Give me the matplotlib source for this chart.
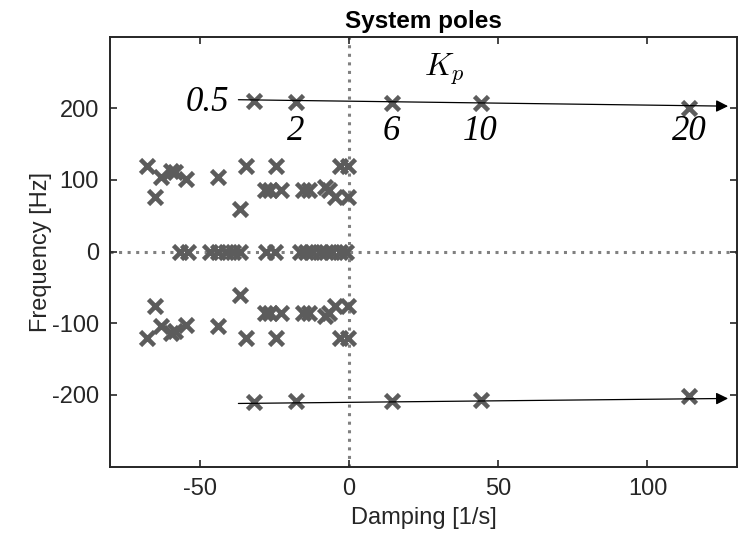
import numpy as np
import matplotlib
matplotlib.use("Agg")
import matplotlib.pyplot as plt

plt.rcParams["font.family"] = ["Liberation Sans", "DejaVu Sans"]
plt.rcParams["mathtext.fontset"] = "cm"
plt.rcParams["axes.unicode_minus"] = False

# ------------------------------------------------------------
# Pole data
# ------------------------------------------------------------
# complex poles (upper half plane), plotted with their conjugates
cplx_damping = [-67.5, -62.8, -65.0, -59.5, -58.4, -54.7, -43.9, -34.3, -36.6,
                -24.3, -28.2, -26.5, -22.6, -15.4, -13.2, -8.1, -6.5, -4.8,
                -3.1, -0.3, -0.3]
cplx_freq = [120, 104, 76, 113, 111, 102, 104, 120, 60,
             120, 86, 86, 86, 86, 86, 90, 86, 76,
             120, 120, 76]

# real poles
real_damping = [-56.7, -53.9, -46.6, -44.0, -41.0, -38.9, -36.6, -27.7, -24.9,
                -16.5, -14.3, -12.2, -9.8, -7.6, -5.5, -3.1, -0.9]

# dominant pole pair for increasing Kp
kp_labels = ["0.5", "2", "6", "10", "20"]
kp_damping = [-31.9, -17.8, 14.3, 44.1, 114.0]
kp_freq = [210, 209, 208, 207, 201]

MARK = "#5c5c5c"

fig = plt.figure(figsize=(7.5, 5.41), dpi=100)
ax = fig.add_axes([0.1467, 0.1377, 0.836, 0.7945])

# axes through origin (dotted)
ax.axvline(0, color="#808080", lw=2.2, ls=(0, (1, 1.8)), zorder=1)
ax.axhline(0, color="#808080", lw=2.2, ls=(0, (1, 1.8)), zorder=1)

mk = dict(marker="x", ls="none", ms=10, mew=3.3, color=MARK, zorder=3)
ax.plot(cplx_damping, cplx_freq, **mk)
ax.plot(cplx_damping, [-f for f in cplx_freq], **mk)
ax.plot(real_damping, np.zeros(len(real_damping)), **mk)
ax.plot(kp_damping, kp_freq, **mk)
ax.plot(kp_damping, [-f for f in kp_freq], **mk)

# Kp arrows
arw = dict(arrowstyle="-|>", color="black", lw=0.9, mutation_scale=18,
           shrinkA=0, shrinkB=0)
ax.annotate("", xy=(127, 203), xytext=(-37, 212), arrowprops=arw, zorder=4)
ax.annotate("", xy=(127, -205), xytext=(-37, -212), arrowprops=arw, zorder=4)

# Kp labels
num = dict(fontfamily="Liberation Serif", fontstyle="italic", fontsize=25,
           color="black", va="center")
ax.text(-40, 208, kp_labels[0], ha="right", **num)
for lab, xd in zip(kp_labels[1:], kp_damping[1:]):
    ax.text(xd, 168, lab, ha="center", **num)
ax.text(32, 254, r"$K_p$", fontsize=23, ha="center", va="center")

ax.set_xlim(-80, 130)
ax.set_ylim(-300, 300)
ax.set_xticks([-50, 0, 50, 100])
ax.set_yticks([-200, -100, 0, 100, 200])

for s in ax.spines.values():
    s.set_color("#262626")
    s.set_linewidth(1.4)
ax.tick_params(direction="in", length=5, width=1.2, color="#262626",
               labelsize=17, labelcolor="#262626", top=True, right=True, pad=8)

ax.set_xlabel("Damping [1/s]", fontsize=17, color="#262626", labelpad=5)
ax.set_ylabel("Frequency [Hz]", fontsize=17, color="#262626", labelpad=0)
ax.set_title("System poles", fontsize=17.5, fontweight="bold", pad=6)

fig.savefig("out.png", dpi=100)
